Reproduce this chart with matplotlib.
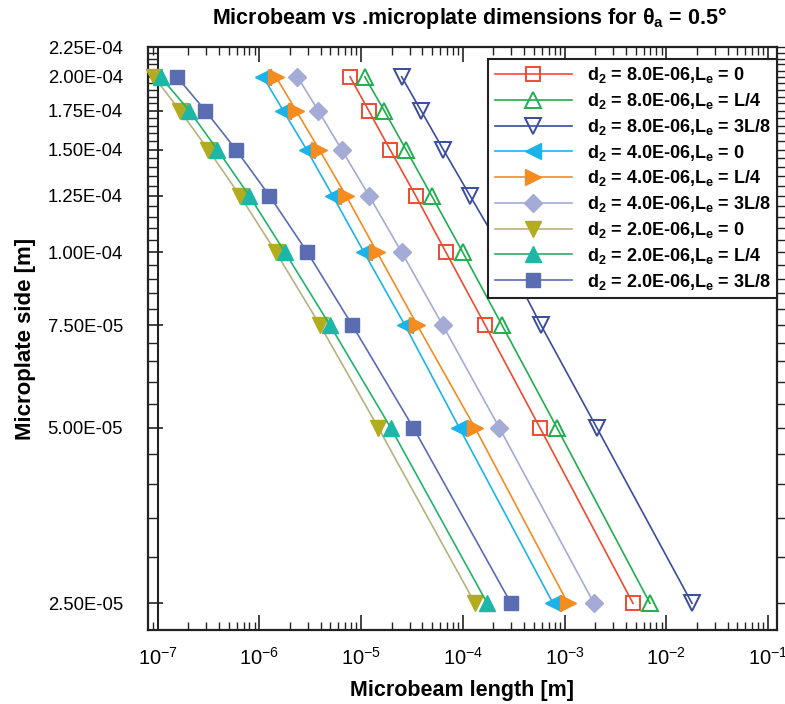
import numpy as np
import matplotlib
matplotlib.use("Agg")
import matplotlib.pyplot as plt
from matplotlib.ticker import FixedLocator, FixedFormatter, LogFormatterMathtext, NullFormatter

plt.rcParams['font.family'] = ['Liberation Sans', 'DejaVu Sans']
plt.rcParams['mathtext.fontset'] = 'custom'
plt.rcParams['mathtext.rm'] = 'Liberation Sans'
plt.rcParams['mathtext.bf'] = 'Liberation Sans:bold'
plt.rcParams['mathtext.it'] = 'Liberation Sans:italic'

# ---- data ----
side = [2.0e-4, 1.75e-4, 1.5e-4, 1.25e-4, 1.0e-4, 7.5e-5, 5.0e-5, 2.5e-5]

len_d8_L0 = [7.80e-6, 1.19e-5, 1.93e-5, 3.45e-5, 6.84e-5, 1.66e-4, 5.74e-4, 4.71e-3]
len_d8_L4 = [1.09e-5, 1.69e-5, 2.77e-5, 4.95e-5, 1.00e-4, 2.43e-4, 8.43e-4, 6.92e-3]
len_d8_3L8 = [2.51e-5, 3.89e-5, 6.44e-5, 1.18e-4, 2.49e-4, 5.87e-4, 2.08e-3, 1.79e-2]
len_d4_L0 = [1.09e-6, 1.72e-6, 2.92e-6, 5.27e-6, 1.07e-5, 2.70e-5, 9.25e-5, 7.71e-4]
len_d4_L4 = [1.46e-6, 2.30e-6, 3.89e-6, 7.13e-6, 1.44e-5, 3.57e-5, 1.32e-4, 1.08e-3]
len_d4_3L8 = [2.37e-6, 3.80e-6, 6.45e-6, 1.20e-5, 2.51e-5, 6.35e-5, 2.29e-4, 1.95e-3]
len_d2_L0 = [9.24e-8, 1.66e-7, 3.15e-7, 6.47e-7, 1.46e-6, 3.95e-6, 1.48e-5, 1.32e-4]
len_d2_L4 = [1.07e-7, 2.05e-7, 3.87e-7, 7.98e-7, 1.79e-6, 4.95e-6, 1.96e-5, 1.74e-4]
len_d2_3L8 = [1.55e-7, 2.95e-7, 5.90e-7, 1.26e-6, 2.97e-6, 8.20e-6, 3.27e-5, 2.98e-4]

labels = [
    r'd$_\mathbf{2}$ = 8.0E-06,L$_\mathbf{e}$ = 0',
    r'd$_\mathbf{2}$ = 8.0E-06,L$_\mathbf{e}$ = L/4',
    r'd$_\mathbf{2}$ = 8.0E-06,L$_\mathbf{e}$ = 3L/8',
    r'd$_\mathbf{2}$ = 4.0E-06,L$_\mathbf{e}$ = 0',
    r'd$_\mathbf{2}$ = 4.0E-06,L$_\mathbf{e}$ = L/4',
    r'd$_\mathbf{2}$ = 4.0E-06,L$_\mathbf{e}$ = 3L/8',
    r'd$_\mathbf{2}$ = 2.0E-06,L$_\mathbf{e}$ = 0',
    r'd$_\mathbf{2}$ = 2.0E-06,L$_\mathbf{e}$ = L/4',
    r'd$_\mathbf{2}$ = 2.0E-06,L$_\mathbf{e}$ = 3L/8',
]
series = [len_d8_L0, len_d8_L4, len_d8_3L8, len_d4_L0, len_d4_L4, len_d4_3L8,
          len_d2_L0, len_d2_L4, len_d2_3L8]

x_major = [1e-7, 1e-6, 1e-5, 1e-4, 1e-3, 1e-2, 1e-1]
y_major = [2.5e-5, 5.0e-5, 7.5e-5, 1.0e-4, 1.25e-4, 1.5e-4, 1.75e-4, 2.0e-4, 2.25e-4]
y_major_labels = ['2.50E-05', '5.00E-05', '7.50E-05', '1.00E-04', '1.25E-04',
                  '1.50E-04', '1.75E-04', '2.00E-04', '2.25E-04']

# styles: (line color, marker, marker color, filled, size)
styles = [
    ('#EF4B2F', 's', '#EF4B2F', False, 10),
    ('#1FAF4E', '^', '#1FAF4E', False, 11),
    ('#3A4C9E', 'v', '#3A4C9E', False, 11),
    ('#1BB4EA', '<', '#1BB4EA', True, 11),
    ('#F68B1F', '>', '#F68B1F', True, 11),
    ('#A3ABD6', 'D', '#A3ABD6', True, 9),
    ('#B7B27C', 'v', '#B2AC1E', True, 11),
    ('#22B36A', '^', '#1DB7A8', True, 11),
    ('#5A6CB2', 's', '#5A6CB2', True, 10),
]

fig = plt.figure(figsize=(7.85, 7.04), dpi=100)
ax = fig.add_axes([148/785, 1-630/704, (777-148)/785, (630-47)/704])

for vals, lab, (lc, mk, mc, filled, ms) in zip(series, labels, styles):
    ax.plot(vals, side, color=lc, lw=1.2, marker=mk, ms=ms,
            mfc=mc if filled else 'none', mec=mc, mew=1.4 if not filled else 1.0,
            label=lab, clip_on=False, zorder=3)

ax.set_xscale('log')
ax.set_yscale('log')
ax.set_xlim(8.06e-8, 0.1226)
ax.set_ylim(2.25e-5, 2.25e-4)

# axis line at x=1e-7 (ladder look)
ax.axvline(1e-7, color='#222222', lw=1.5, zorder=2)

ax.yaxis.set_major_locator(FixedLocator(y_major))
ax.yaxis.set_major_formatter(FixedFormatter(y_major_labels))
y_minor = [v * 1e-6 for v in range(25, 226, 5) if v % 25 != 0]
ax.yaxis.set_minor_locator(FixedLocator(y_minor))
ax.yaxis.set_minor_formatter(NullFormatter())

x_minor = [m * d for d in [1e-8] + x_major for m in range(2, 10)]
x_minor = [v for v in x_minor if 8.06e-8 <= v <= 0.1226]
ax.xaxis.set_major_locator(FixedLocator(x_major))
ax.xaxis.set_minor_locator(FixedLocator(x_minor))
ax.xaxis.set_major_formatter(LogFormatterMathtext())
ax.xaxis.set_minor_formatter(NullFormatter())

ax.tick_params(axis='x', which='major', direction='in', length=10.5, width=1.2,
               top=True, bottom=True, labelsize=14.5, pad=12, color='#222222')
ax.tick_params(axis='x', which='minor', direction='in', length=5.5, width=1.0,
               top=True, bottom=True, color='#222222')
ax.tick_params(axis='y', which='major', direction='in', length=11, width=1.2,
               left=True, right=False, labelsize=13.3, pad=18, color='#222222')
ax.tick_params(axis='y', which='minor', direction='in', length=7.2, width=1.0,
               left=True, right=False, color='#222222')

# right side outward tick marks at the same tick positions
ax.hlines(y_major + y_minor, 1.0, 1.0 + 8/629, transform=ax.get_yaxis_transform(),
          colors='#222222', lw=1.0, clip_on=False)

for s in ax.spines.values():
    s.set_linewidth(1.6)
    s.set_color('#222222')

ax.set_xlabel('Microbeam length [m]', fontsize=15.5, fontweight='bold', labelpad=8)
ax.set_ylabel('Microplate side [m]', fontsize=16, fontweight='bold', labelpad=8)
fig.text(0.598, 0.974, r'Microbeam vs .microplate dimensions for θ$_\mathbf{a}$ = 0.5°',
         ha='center', va='center', fontsize=15.5, fontweight='bold')

leg = ax.legend(loc='upper right', bbox_to_anchor=(1.0, 1 - 12/583), borderaxespad=0,
                prop={'weight': 'bold', 'size': 13}, handlelength=4.3,
                handletextpad=0.8, labelspacing=0.32, borderpad=0.35,
                fancybox=False, framealpha=1, edgecolor='#222222', numpoints=1)
leg.get_frame().set_linewidth(1.5)
leg.set_zorder(5)

fig.savefig('out.png', dpi=100)
